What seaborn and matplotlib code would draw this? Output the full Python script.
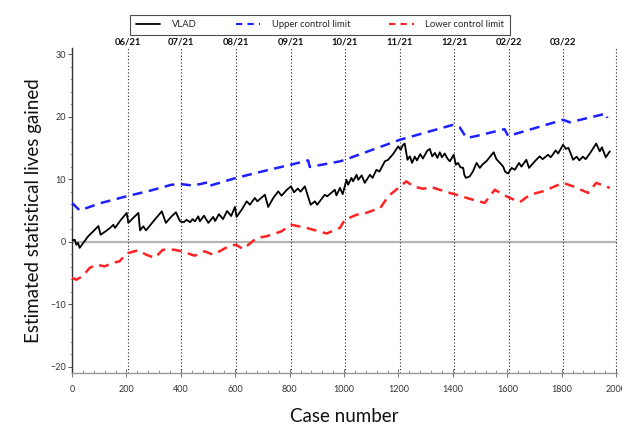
import matplotlib
matplotlib.use("Agg")
import matplotlib.pyplot as plt
import seaborn as sns
import pandas as pd
from matplotlib.ticker import MultipleLocator
from matplotlib.lines import Line2D

sns.set_theme(style="white")
plt.rcParams['font.family'] = ['Lato', 'DejaVu Sans']

vlad_case = [0,10,16,22,28,45,60,77,97,105,125,140,152,158,180,201,207,225,244,250,262,272,300,330,345,365,382,397,411,421,434,443,452,464,470,485,501,519,526,540,555,570,585,599,605,625,642,654,672,681,709,721,740,758,770,790,805,816,830,840,856,877,893,901,929,938,966,972,985,995,1009,1015,1027,1033,1046,1052,1065,1076,1095,1105,1119,1130,1150,1162,1180,1199,1208,1217,1223,1233,1242,1250,1260,1268,1280,1290,1305,1315,1324,1334,1343,1352,1360,1370,1380,1389,1403,1411,1419,1428,1438,1442,1448,1462,1474,1487,1499,1510,1523,1550,1560,1575,1585,1592,1603,1616,1628,1643,1652,1670,1680,1700,1719,1730,1750,1760,1778,1787,1805,1815,1825,1842,1855,1865,1878,1888,1905,1927,1940,1948,1962,1970,1977]
vlad_val = [0.2,0.3,-0.5,-0.2,-1.0,0.0,0.9,1.6,2.5,1.1,1.7,2.2,2.7,2.2,3.5,4.6,3.0,3.8,4.6,1.8,2.45,1.8,3.3,4.85,3.0,4.0,4.7,3.25,3.1,3.5,3.1,3.6,3.25,4.05,3.25,4.15,3.0,3.95,3.3,4.4,3.6,4.9,4.1,5.55,3.95,5.2,6.45,5.9,7.0,6.45,7.5,5.55,7.0,8.05,7.35,8.3,8.85,7.9,8.5,8.0,8.85,5.9,6.45,5.9,7.5,7.25,8.3,7.4,8.6,7.6,9.9,9.1,10.2,9.65,10.7,9.9,10.6,9.4,10.7,10.2,11.5,11.2,12.85,13.1,14.0,15.25,14.7,15.5,15.7,13.1,13.65,12.6,13.6,13.0,14.0,13.3,14.5,14.85,13.65,14.2,13.4,14.3,13.5,14.1,13.3,12.85,13.9,12.3,12.6,11.9,11.8,10.7,10.2,10.45,11.25,12.6,11.8,12.4,12.85,14.3,13.2,12.5,12.0,11.2,10.9,11.8,11.5,12.6,12.0,13.1,11.8,12.8,13.65,13.2,13.9,13.5,14.6,14.1,15.5,14.85,15.0,13.1,13.6,13.0,13.6,13.2,14.2,15.7,14.45,15.1,13.5,14.0,14.45]

ucl_case = [0,28,108,200,291,365,402,440,470,500,503,603,715,803,868,874,985,1003,1205,1401,1425,1450,1481,1590,1603,1805,1830,1964,1967]
ucl_val = [6.2,5.0,6.2,7.25,8.2,9.1,9.2,9.0,9.2,9.5,8.9,10.2,11.4,12.3,13.0,11.95,12.85,13.1,16.3,18.7,18.3,16.6,16.85,18.0,16.9,19.5,19.1,20.5,19.8]

lcl_case = [0,16,40,65,89,120,151,175,200,242,273,304,334,377,402,451,487,519,580,603,629,679,715,770,805,862,936,985,1003,1046,1082,1113,1132,1162,1229,1254,1291,1321,1340,1389,1413,1462,1517,1554,1597,1646,1683,1731,1805,1842,1897,1927,1977]
lcl_val = [-5.8,-6.1,-5.5,-4.2,-3.7,-3.95,-3.4,-3.15,-1.9,-1.4,-2.1,-2.6,-1.3,-1.3,-1.55,-2.25,-1.55,-2.1,-0.65,-0.5,-1.2,0.6,0.85,1.65,2.7,2.2,1.3,2.2,3.5,4.3,4.6,5.1,5.3,7.25,9.65,8.85,8.45,8.75,8.45,7.8,7.5,6.85,6.2,8.3,7.25,6.3,7.5,8.05,9.4,8.85,7.8,9.4,8.6]

month_pos = [205, 400, 602, 805, 1003, 1205, 1405, 1607, 1805, 2000]
month_lab = ["06/21", "07/21", "08/21", "09/21", "10/21", "11/21", "12/21", "02/22", "03/22", ""]

series_names = ["VLAD", "Upper control limit", "Lower control limit"]

fig = plt.figure(figsize=(6.22, 4.32), dpi=100)
ax = fig.add_axes([0.1158, 0.137, 0.876, 0.752])

ax.axhline(0, color="#b4b4b4", lw=1.6, zorder=1)
for m in month_pos:
    ax.axvline(m, color="#222222", lw=0.8, ls=(0, (1, 2)), zorder=1)

sns.lineplot(x=ucl_case, y=ucl_val, ax=ax, color="#1f1fff", lw=1.8, sort=False,
             estimator=None, linestyle=(0, (4, 2.6)), zorder=3)
sns.lineplot(x=lcl_case, y=lcl_val, ax=ax, color="#ff2424", lw=1.8, sort=False,
             estimator=None, linestyle=(0, (4, 2.6)), zorder=3)
sns.lineplot(x=vlad_case, y=vlad_val, ax=ax, color="black", lw=1.3, sort=False,
             estimator=None, zorder=4)

ax.set_xlim(0, 2003)
ax.set_ylim(-21, 31)
ax.xaxis.set_major_locator(MultipleLocator(200))
ax.xaxis.set_minor_locator(MultipleLocator(40))
ax.yaxis.set_major_locator(MultipleLocator(10))
ax.yaxis.set_minor_locator(MultipleLocator(2))

for s in ["top", "right"]:
    ax.spines[s].set_visible(False)
ax.spines["left"].set_color("#333333")
ax.spines["left"].set_linewidth(1.0)
ax.spines["bottom"].set_color("#9a9a9a")
ax.spines["bottom"].set_linewidth(1.0)

ax.tick_params(axis="y", which="major", direction="out", length=3, width=0.7,
               color="#555555", labelsize=6.5, labelcolor="#333333", pad=1.5, left=True)
ax.tick_params(axis="y", which="minor", direction="out", length=1.5, width=0.6,
               color="#888888", left=True)
ax.tick_params(axis="x", which="major", direction="inout", length=6, width=0.7,
               color="#777777", labelsize=6.5, labelcolor="#333333", pad=6, bottom=True)
ax.tick_params(axis="x", which="minor", direction="in", length=2.5, width=0.6,
               color="#888888", bottom=True)

for m, lab in zip(month_pos, month_lab):
    if lab:
        ax.text(m, 1.005, lab, transform=ax.get_xaxis_transform(), ha="center",
                va="bottom", fontsize=6.8, fontweight="bold", color="#111111")

ax.set_xlabel("Case number", fontsize=13.5, labelpad=10, color="#111111")
ax.set_ylabel("Estimated statistical lives gained", fontsize=13.5, labelpad=6, color="#111111")

handles = [
    Line2D([], [], color="black", lw=1.3),
    Line2D([], [], color="#1f1fff", lw=1.5, linestyle=(0, (3, 2.5))),
    Line2D([], [], color="#ff2424", lw=1.5, linestyle=(0, (3, 2.5))),
]
leg = fig.legend(handles, series_names, loc="lower left", ncol=3,
                 bbox_to_anchor=(0.209, 0.919, 0.611, 0.062), mode="expand",
                 frameon=True, fancybox=False, fontsize=6.8, handlelength=2.6,
                 borderaxespad=0, borderpad=0.6, handletextpad=1.2)
leg.get_frame().set_edgecolor("#222222")
leg.get_frame().set_linewidth(0.8)

fig.savefig("out.png", dpi=100)
